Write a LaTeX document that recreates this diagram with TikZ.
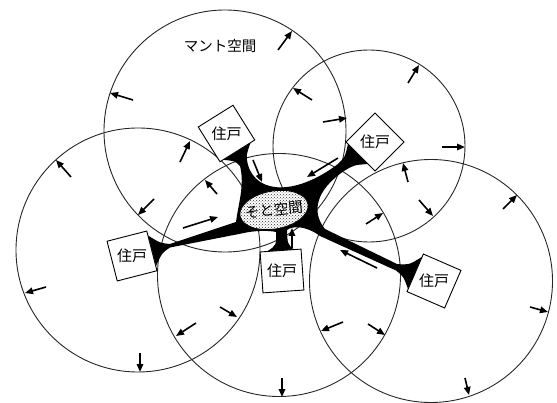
\documentclass[tikz,border=0pt]{standalone}
\usepackage{fontspec}
\newfontfamily\jp{Noto Sans CJK JP}
\usetikzlibrary{arrows.meta,shapes.geometric,patterns}
\begin{document}
\begin{tikzpicture}[x=1pt,y=-1pt,
  ring/.style={draw=black!85,line width=0.9pt},
  arr/.style={line width=1.6pt,-{Triangle[length=8pt,width=6.5pt]}},
  house/.style={draw,fill=white,line width=0.9pt,minimum size=41pt,inner sep=0pt},
  htext/.style={font=\jp\fontsize{15}{15}\selectfont,inner sep=0pt},
]
\useasboundingbox (0,0) rectangle (557,403);
% circles
\coordinate (c1) at (225,131);
\coordinate (c2) at (369,146);
\coordinate (c3) at (138,250);
\coordinate (c4) at (279,275);
\coordinate (c5) at (431,281);
\draw[ring] (c1) circle[radius=121pt];
\draw[ring] (c2) circle[radius=96pt];
\draw[ring] (c3) circle[radius=122pt];
\draw[ring] (c4) circle[radius=121.5pt];
\draw[ring] (c5) circle[radius=121.5pt];
% black connecting space
\fill[black]
 (223,159.8) -- (250.5,142.7)
 .. controls (246,156) .. (248,165)
 .. controls (257,195) and (297,195) .. (338,164)
 .. controls (345,157) .. (348,144)
 -- (368,164)
 .. controls (354,165) .. (344,171)
 .. controls (316,190) and (311,212) .. (325,229)
 -- (397,264)
 .. controls (409,265) .. (422.5,256.5)
 -- (408,289)
 .. controls (403.5,276.5) .. (396,270.5)
 -- (320,236)
 .. controls (305,225) and (292,226) .. (287,230)
 .. controls (287.5,244) .. (294,249.6)
 -- (267,251.6)
 .. controls (276.5,245) .. (276,232)
 .. controls (268,230) and (252,231) .. (244,233)
 -- (170,247.5)
 .. controls (162,253) .. (156,266)
 -- (148,235.5)
 .. controls (160,243) .. (170,244)
 -- (236,222)
 .. controls (238,205) and (245,185) .. (240,166)
 .. controls (235,161) .. (223,159.8)
 -- cycle;
% soto space
\node[ellipse,draw,line width=0.8pt,minimum width=69pt,minimum height=38pt,rotate=10,
  preaction={fill=white},pattern=crosshatch dots,pattern color=black!80,inner sep=0pt] (soto) at (274,210) {};
\node[htext,rotate=6,font=\jp\fontsize{14.5}{14.5}\selectfont] (sotoT) at (soto.center) {そと空間};
% houses
\node[house,rotate=32] (hA) at (226.5,133.5) {};
\node[htext] (tA) at (hA.center) {住戸};
\node[house,rotate=45] (hB) at (375,142) {};
\node[htext] (tB) at (hB.center) {住戸};
\node[house,rotate=14.4] (hC) at (132,256) {};
\node[htext] (tC) at (hC.center) {住戸};
\node[house,rotate=4] (hD) at (282,271) {};
\node[htext] (tD) at (hD.center) {住戸};
\node[house,rotate=-23.5] (hE) at (434,281) {};
\node[htext] (tE) at (hE.center) {住戸};
% label
\node[font=\jp\fontsize{14.5}{14.5}\selectfont,inner sep=0pt] (mant) at (220,46) {マント空間};
% arrows circle 1
\draw[arr] (278,50) -- (292,31);
\draw[arr] (133,100) -- (110,93);
\draw[arr] (154,199) -- (138,215);
\draw[arr] (323,122) -- (347,118);
% arrows towards the soto space
\draw[arr] (253,160) -- (262,182);
\draw[arr] (338,158) -- (307,177);
\draw[arr] (183,228) -- (218,217);
\draw[arr] (292,248) -- (292,228);
\draw[arr] (377,268) -- (340,250);
% circle 2
\draw[arr] (408,83) -- (419,65);
\draw[arr] (312,100) -- (293,88);
\draw[arr] (442,147) -- (465,147);
\draw[arr] (419,200) -- (433,216);
% circle 3
\draw[arr] (71,177) -- (56,160);
\draw[arr] (180,162) -- (190,141);
\draw[arr] (46,287) -- (25,293);
\draw[arr] (220,307) -- (237,317);
\draw[arr] (140,353) -- (140,372);
% circle 4
\draw[arr] (217,194) -- (205,180);
\draw[arr] (366,224) -- (383,213);
\draw[arr] (196,323) -- (176,336);
\draw[arr] (368,324) -- (385,335);
\draw[arr] (282,378) -- (282,397);
% circle 5
\draw[arr] (408,182) -- (403,163);
\draw[arr] (503,209) -- (517,195);
\draw[arr] (343,322) -- (321,331);
\draw[arr] (530,307) -- (548,312);
\draw[arr] (465,378) -- (469,395);
\end{tikzpicture}
\end{document}
